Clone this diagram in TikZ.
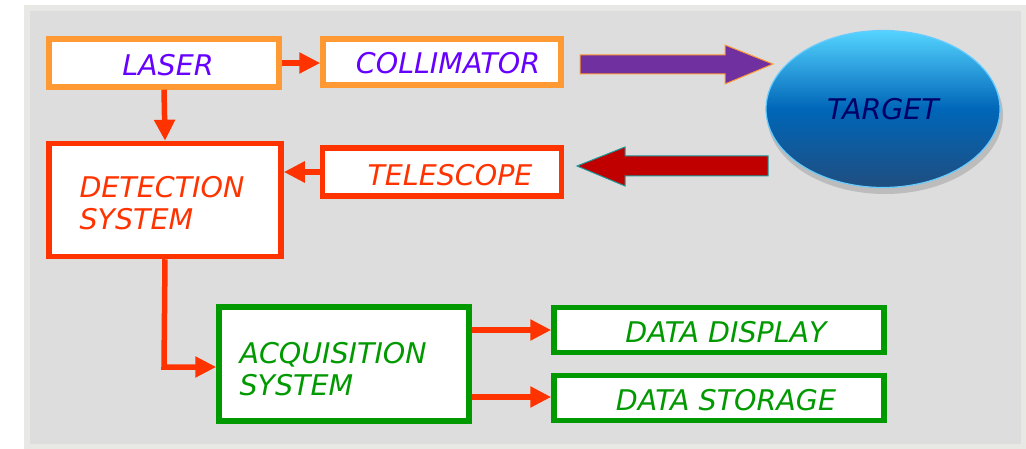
\documentclass[tikz,border=0pt]{standalone}
\usepackage{fontspec}
\setmainfont{DejaVu Sans}
\usetikzlibrary{arrows.meta,shapes.geometric}
\definecolor{bgout}{HTML}{E8E8E4}
\definecolor{bgin}{HTML}{DDDDDD}
\definecolor{laserorange}{HTML}{FF9933}
\definecolor{redorange}{HTML}{FF3300}
\definecolor{boxgreen}{HTML}{009900}
\definecolor{txtpurple}{HTML}{6600FF}
\definecolor{navy}{HTML}{000066}
\definecolor{beampurple}{HTML}{7030A0}
\definecolor{beamred}{HTML}{C00000}
\definecolor{teal}{HTML}{1A9A9A}
\definecolor{skytop}{HTML}{55D4FF}
\definecolor{skymid}{HTML}{0066B8}
\definecolor{skybot}{HTML}{1F4E80}
\definecolor{skyedge}{HTML}{66CCFF}
\tikzset{
  blk/.style={draw, line width=5.5pt, fill=white, inner sep=0pt},
  lbl/.style={font=\itshape\fontsize{28.5}{32}\selectfont},
  link/.style={draw=redorange, line width=5.5pt, -{Triangle[length=21pt,width=20pt]}},
}
\begin{document}
\begin{tikzpicture}[x=1pt,y=-1pt]
\useasboundingbox (0,0) rectangle (1026,449);
% backdrop panel
\fill[bgout] (24,5) rectangle (1026,449);
\fill[bgin] (30,11) rectangle (1021,444);

% blocks
\node[blk, draw=laserorange, minimum width=230pt, minimum height=48pt] (laser) at (164,63) {};
\node[lbl, text=txtpurple] at (168,65) {LASER};
\node[blk, draw=laserorange, minimum width=238pt, minimum height=46pt] (coll) at (442,62) {};
\node[lbl, text=txtpurple] at (448,63) {COLLIMATOR};
\node[blk, draw=redorange, minimum width=232pt, minimum height=113pt] (det) at (165,200) {};
\node[lbl, text=redorange, align=left, anchor=west] at (76,203) {DETECTION\\SYSTEM};
\node[blk, draw=redorange, minimum width=239pt, minimum height=48pt] (tel) at (442,172) {};
\node[lbl, text=redorange] at (450,175) {TELESCOPE};
\node[blk, draw=boxgreen, minimum width=250pt, minimum height=114pt] (acq) at (344,364) {};
\node[lbl, text=boxgreen, align=left, anchor=west] at (236,369) {ACQUISITION\\SYSTEM};
\node[blk, draw=boxgreen, minimum width=330pt, minimum height=45pt] (disp) at (719,330) {};
\node[lbl, text=boxgreen] at (726,332) {DATA DISPLAY};
\node[blk, draw=boxgreen, minimum width=330pt, minimum height=45pt] (stor) at (719,398) {};
\node[lbl, text=boxgreen] at (726,400) {DATA STORAGE};

% target with shadow
\fill[black, opacity=0.15] (885,115) ellipse [x radius=118pt, y radius=79pt];
\node[ellipse, draw=skyedge, line width=1.2pt, minimum width=234pt, minimum height=157pt,
      top color=skytop, bottom color=skybot, middle color=skymid] (tgt) at (883,109) {};
\node[lbl, text=navy] at (tgt.center) {TARGET};

% signal links
\draw[link] (laser.east |- 0,63) -- (coll.west |- 0,63);
\draw[link] (laser.south) -- (det.north);
\draw[link] (tel.west) -- (det.east |- tel.west);
\draw[link] (det.south) -- (164,367) -- (acq.west |- 0,367);
\draw[link] (acq.east |- 0,330) -- (disp.west);
\draw[link] (acq.east |- 0,397) -- (stor.west |- 0,397);

% outgoing and returning beams
\draw[laserorange, line width=1pt, fill=beampurple]
  (580,55) -- (725,55) -- (725,45) -- (773,64) -- (725,84) -- (725,74) -- (580,74) -- cycle;
\draw[teal, line width=1pt, fill=beamred]
  (768,156) -- (625,156) -- (625,147) -- (577,166) -- (625,186) -- (625,176) -- (768,176) -- cycle;
\end{tikzpicture}
\end{document}
